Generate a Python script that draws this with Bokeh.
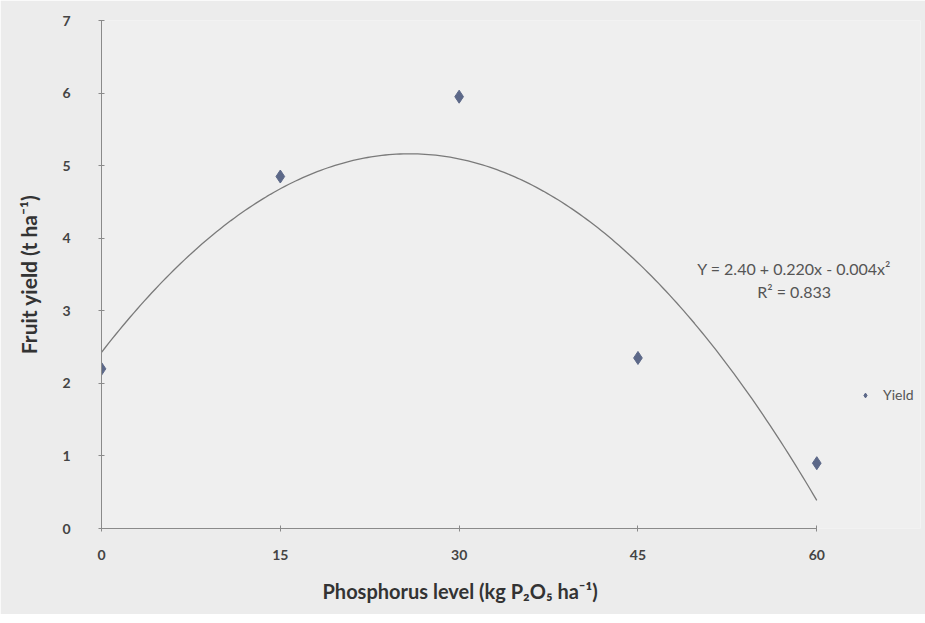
import numpy as np
from bokeh.plotting import figure
from bokeh.models import Label, Legend, LegendItem, Range1d, FixedTicker, Title
from bokeh.embed import file_html
from bokeh.resources import INLINE

# Data
phosphorus = [0, 15, 30, 45, 60]            # kg P2O5 / ha
fruit_yield = [2.2, 4.85, 5.95, 2.35, 0.9]   # t / ha
x_ticks = [0, 15, 30, 45, 60]
y_ticks = [0, 1, 2, 3, 4, 5, 6, 7]
equation_text = "Y = 2.40 + 0.220x - 0.004x\u00b2"
r2_text = "R\u00b2 = 0.833"
x_title = "Phosphorus level (kg P\u2082O\u2085 ha\u207b\u00b9)"
y_title = "Fruit yield (t ha\u207b\u00b9)"

# Polynomial (order 2) trendline fitted to the data
coef = np.polyfit(phosphorus, fruit_yield, 2)
xs = np.linspace(min(phosphorus), max(phosphorus), 200)
ys = np.polyval(coef, xs)

FONT = "Lato"
BG = "#ececec"

p = figure(width=925, height=614, output_backend="svg", toolbar_location=None,
           x_range=Range1d(0, 68.7), y_range=Range1d(0, 7),
           min_border_left=101, min_border_right=5, min_border_top=20, min_border_bottom=86,
           background_fill_color="#efefef", border_fill_color=BG)
p.outline_line_color = None
p.grid.visible = False

trend = p.line(xs, ys, line_color="#7a7a7a", line_width=1.3)
pts = p.scatter(phosphorus, fruit_yield, marker="diamond", size=13,
                fill_color="#5c6888", line_color="#5c6888")

for ax in (p.xaxis[0], p.yaxis[0]):
    ax.axis_line_color = "#8a8a8a"
    ax.major_tick_line_color = "#8a8a8a"
    ax.minor_tick_line_color = None
    ax.major_tick_in = 3
    ax.major_tick_out = 3
    ax.major_label_text_font = FONT
    ax.major_label_text_font_style = "bold"
    ax.major_label_text_color = "#444444"
    ax.axis_label_text_font = FONT
    ax.axis_label_text_font_style = "bold"
    ax.axis_label_text_color = "#333333"

p.xaxis.bounds = (0, 60)
p.xaxis.ticker = FixedTicker(ticks=x_ticks)
p.yaxis.ticker = FixedTicker(ticks=y_ticks)
p.xaxis.major_label_text_font_size = "14px"
p.yaxis.major_label_text_font_size = "14px"
p.xaxis.major_label_standoff = 18
p.yaxis.major_label_standoff = 28
p.yaxis.axis_label = y_title
p.yaxis.axis_label_text_font_size = "21px"
p.yaxis.axis_label_standoff = 18
# invisible spacer label so the title sits lower, as in the reference
p.xaxis.axis_label = "\u00a0"
p.xaxis.axis_label_text_font_size = "9px"
p.xaxis.axis_label_standoff = 0

p.add_layout(Title(text=x_title, align="left", offset=221, text_font=FONT,
                   text_font_size="20px", text_font_style="bold",
                   text_color="#333333", standoff=0), "below")

p.add_layout(Label(x=58.1, y=3.58, text=equation_text, text_align="center",
                   text_baseline="middle", text_font=FONT, text_font_size="16px",
                   text_color="#555555"))
p.add_layout(Label(x=58.1, y=3.27, text=r2_text, text_align="center",
                   text_baseline="middle", text_font=FONT, text_font_size="16px",
                   text_color="#555555"))

legend = Legend(items=[LegendItem(label="Yield", renderers=[pts])],
                location=(758, 125), border_line_color=None,
                background_fill_alpha=0, label_text_font=FONT,
                label_text_font_size="14px", label_text_color="#555555",
                glyph_width=12, glyph_height=14, label_standoff=12,
                padding=2, margin=0)
p.add_layout(legend, "center")

open("out.html", "w").write(file_html(p, INLINE))
